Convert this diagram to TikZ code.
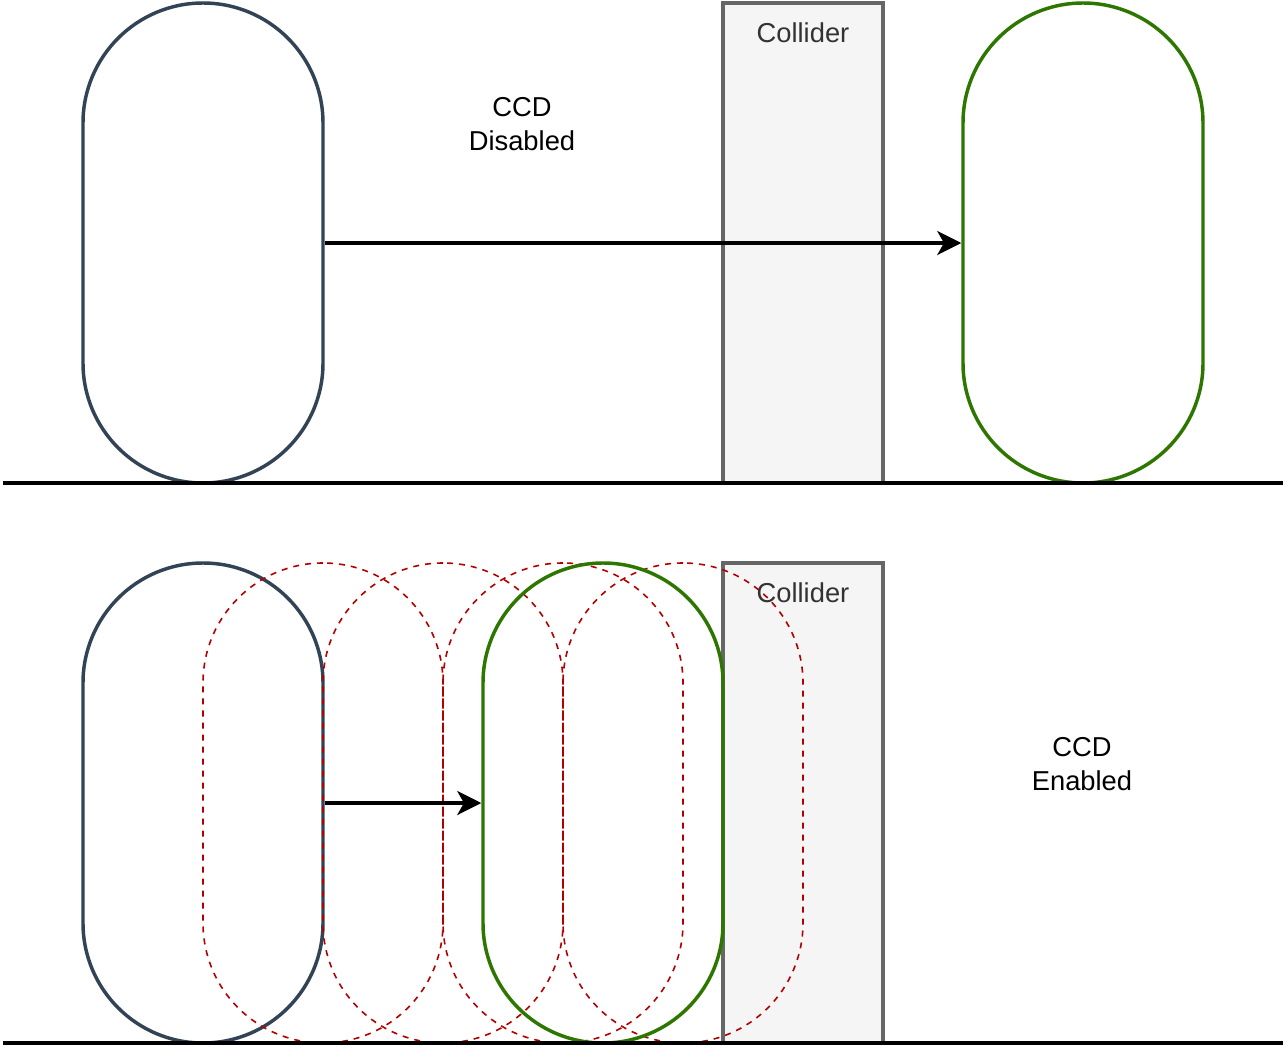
\documentclass[tikz,border=0pt]{standalone}
\usepackage{fontspec}
\setmainfont{Liberation Sans}
\usetikzlibrary{arrows.meta}
\definecolor{navy}{HTML}{314354}
\definecolor{leaf}{HTML}{2D7600}
\definecolor{blood}{HTML}{B20000}
\definecolor{wallfill}{HTML}{F5F5F5}
\definecolor{wallline}{HTML}{666666}
\definecolor{walltext}{HTML}{333333}
\tikzset{
  capsule/.style={draw, line width=2.6pt, rectangle, rounded corners=90pt,
    minimum width=180pt, minimum height=360pt, inner sep=0pt},
  ghost/.style={capsule, draw=blood, line width=1.2pt, dash pattern=on 4.5pt off 4.5pt},
  wall/.style={draw=wallline, fill=wallfill, line width=2.8pt, rectangle,
    minimum width=120pt, minimum height=360pt, inner sep=0pt},
  walllabel/.style={text=walltext, font=\fontsize{20.5}{25}\selectfont},
  note/.style={align=center, font=\fontsize{20.5}{25.5}\selectfont},
  push/.style={line width=2.6pt, -{Stealth[length=18pt, width=18pt, inset=5pt]}},
  ground/.style={line width=2.6pt}
}
\begin{document}
\begin{tikzpicture}[x=0.75pt, y=-0.75pt]
\useasboundingbox (0,0) rectangle (1286,1046);
% top: CCD disabled
\node[wall] (wall1) at (803,243) {};
\node[walllabel] (wall1txt) at (803,33) {Collider};
\node[capsule, draw=navy] (start1) at (203,243) {};
\node[capsule, draw=leaf] (end1) at (1083,243) {};
\draw[push] (start1.east) -- (end1.west);
\node[note] (off) at (522,124) {CCD\\Disabled};
\coordinate (g1a) at (3,483);
\coordinate (g1b) at (1283,483);
\draw[ground] (g1a) -- (g1b);
% bottom: CCD enabled
\node[wall] (wall2) at (803,803) {};
\node[walllabel] (wall2txt) at (803,593) {Collider};
\node[capsule, draw=navy] (start2) at (203,803) {};
\foreach \x [count=\i] in {323,443,563,683}
  \node[ghost] (ghost\i) at (\x,803) {};
\node[capsule, draw=leaf] (end2) at (603,803) {};
\draw[push] (start2.east) -- (end2.west);
\node[note] (on) at (1082,764) {CCD\\Enabled};
\coordinate (g2a) at (3,1043);
\coordinate (g2b) at (1283,1043);
\draw[ground] (g2a) -- (g2b);
\end{tikzpicture}
\end{document}
